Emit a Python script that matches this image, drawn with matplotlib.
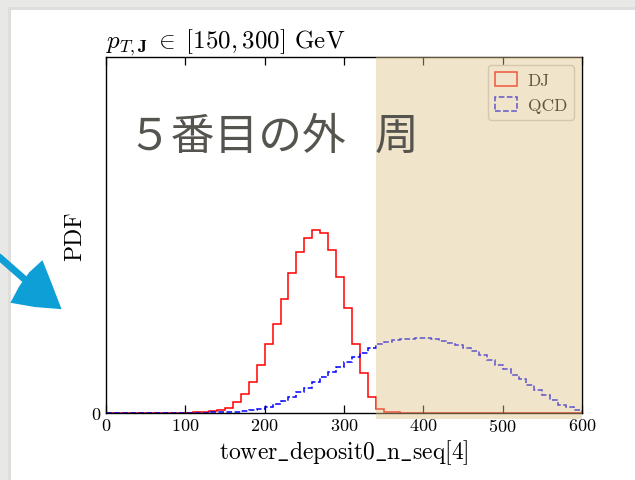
import matplotlib

matplotlib.use("Agg")

import matplotlib.pyplot as plt
import numpy as np
from matplotlib.patches import Polygon, Rectangle

# bin edges 0..600 GeV in steps of 10; PDF values, in units of 1e-4
bin_edges = np.arange(0, 601, 10)
dj_pdf = [
    0, 0, 0, 0, 0, 0, 0, 0, 0, 0.05,
    0.1, 0.3, 0.6, 0.9, 1.7, 3.0, 6.0, 10.6, 17.7, 27.0,
    39.1, 50.4, 64.5, 79.2, 91.1, 99.2, 103.8, 101.9, 92.5, 77.2,
    59.6, 39.1, 22.6, 8.9, 2.3, 0.6, 0.3, 0.2, 0.15, 0.1,
    0.1, 0.1, 0.1, 0.08, 0.08, 0.06, 0.06, 0.05, 0.05, 0.05,
    0.04, 0.04, 0.03, 0.03, 0.03, 0.02, 0.02, 0.02, 0.02, 0.02,
]
qcd_pdf = [
    0, 0, 0, 0, 0, 0, 0, 0, 0, 0.02,
    0.06, 0.1, 0.2, 0.3, 0.4, 0.6, 0.8, 1.1, 1.7, 2.3,
    3.4, 5.1, 7.0, 9.1, 11.9, 14.3, 17.4, 20.2, 23.4, 26.2,
    29.1, 31.9, 34.0, 36.8, 39.1, 40.4, 41.3, 41.9, 42.1, 42.3,
    42.5, 42.1, 40.9, 39.8, 38.7, 37.0, 35.1, 32.6, 30.2, 27.4,
    24.7, 21.7, 19.1, 16.0, 13.0, 10.0, 7.4, 4.7, 3.2, 1.7,
]
pdf_unit = 1e-4
y_top = 201.5

title_text = r"$p_{T,\mathbf{J}}\;\in\;[150, 300]$ GeV"
x_label = r"$\mathrm{tower\_deposit0\_n\_seq[4]}$"
note_main = "５番目の外"
note_tail = "周"
highlight_from = 340

plt.rcParams["font.family"] = "serif"
plt.rcParams["font.serif"] = ["cmr10"]
plt.rcParams["mathtext.fontset"] = "cm"
plt.rcParams["axes.formatter.use_mathtext"] = True

W, H = 635, 481
fig = plt.figure(figsize=(W / 100, H / 100), dpi=100, facecolor="#e8e8e6")


def fx(px):
    return px / W


def fy(py):
    return 1 - py / H


# white slide card with a faint shadow
fig.add_artist(Rectangle((fx(8), 0), 1, fy(8), transform=fig.transFigure,
                         facecolor="#dededc", edgecolor="none", zorder=-3))
fig.add_artist(Rectangle((fx(11), 0), 1, fy(11), transform=fig.transFigure,
                         facecolor="white", edgecolor="none", zorder=-2))

ax = fig.add_axes([fx(106), fy(414), fx(582) - fx(106), fy(58) - fy(414)])
ax.set_facecolor("white")

ax.stairs(np.array(dj_pdf) * pdf_unit, bin_edges, color="#ff0000", linewidth=1.1)
ax.stairs(np.array(qcd_pdf) * pdf_unit, bin_edges, color="#0000ff", linewidth=1.1, linestyle="--")

ax.set_xlim(0, 600)
ax.set_ylim(0, y_top * pdf_unit)
ax.set_xticks([0, 100, 200, 300, 400, 500, 600])
ax.set_yticks([0])
ax.set_yticklabels(["0"])
ax.tick_params(axis="x", direction="in", top=True, length=6, width=0.9, labelsize=13, pad=3)
ax.tick_params(axis="y", direction="in", length=0, labelsize=13, pad=4)
for spine in ax.spines.values():
    spine.set_linewidth(1.0)

ax.set_xlabel(x_label, fontsize=17, labelpad=2)
ax.set_ylabel("PDF", fontsize=17, labelpad=4)
ax.set_title(title_text, loc="left", fontsize=18, pad=7)

handles = [
    Rectangle((0, 0), 1, 1, fill=False, edgecolor="#ff0000", linewidth=1.1),
    Rectangle((0, 0), 1, 1, fill=False, edgecolor="#0000ff", linewidth=1.1, linestyle="--"),
]
ax.legend(handles, ["DJ", "QCD"], loc="upper right", fontsize=12.5, handlelength=1.3,
          handleheight=0.9, handletextpad=0.6, borderaxespad=0.45, fancybox=True,
          framealpha=1.0, edgecolor="#cccccc")

# highlighted region laid over the plot
ax.add_patch(Rectangle((highlight_from, -0.017), 600 - highlight_from, 1.017,
                       transform=ax.get_xaxis_transform(), facecolor="#dec289",
                       alpha=0.44, edgecolor="none", clip_on=False, zorder=10))

# annotation text on the slide
jp = ["Noto Sans CJK JP", "DejaVu Sans"]
fig.text(fx(127), fy(137), note_main, family=jp, fontsize=31.5, color="#55544f",
         ha="left", va="center", zorder=5)
fig.text(fx(375), fy(137), note_tail, family=jp, fontsize=31.5, color="#55544f",
         ha="left", va="center", zorder=5)

# hand-drawn arrow on the left edge
arrow_col = "#0e9fd6"
fig.add_artist(plt.Line2D([fx(-2), fx(30)], [fy(257), fy(285)], transform=fig.transFigure,
                          color=arrow_col, linewidth=5, solid_capstyle="round", zorder=20))
head = [(42, 263), (50, 283), (60, 309), (35, 307), (12, 303), (20, 288), (30, 274)]
fig.add_artist(Polygon([(fx(a), fy(b)) for a, b in head], closed=True, transform=fig.transFigure,
                       facecolor=arrow_col, edgecolor=arrow_col, linewidth=1.5, zorder=20))

fig.savefig("out.png", dpi=100, facecolor=fig.get_facecolor())
